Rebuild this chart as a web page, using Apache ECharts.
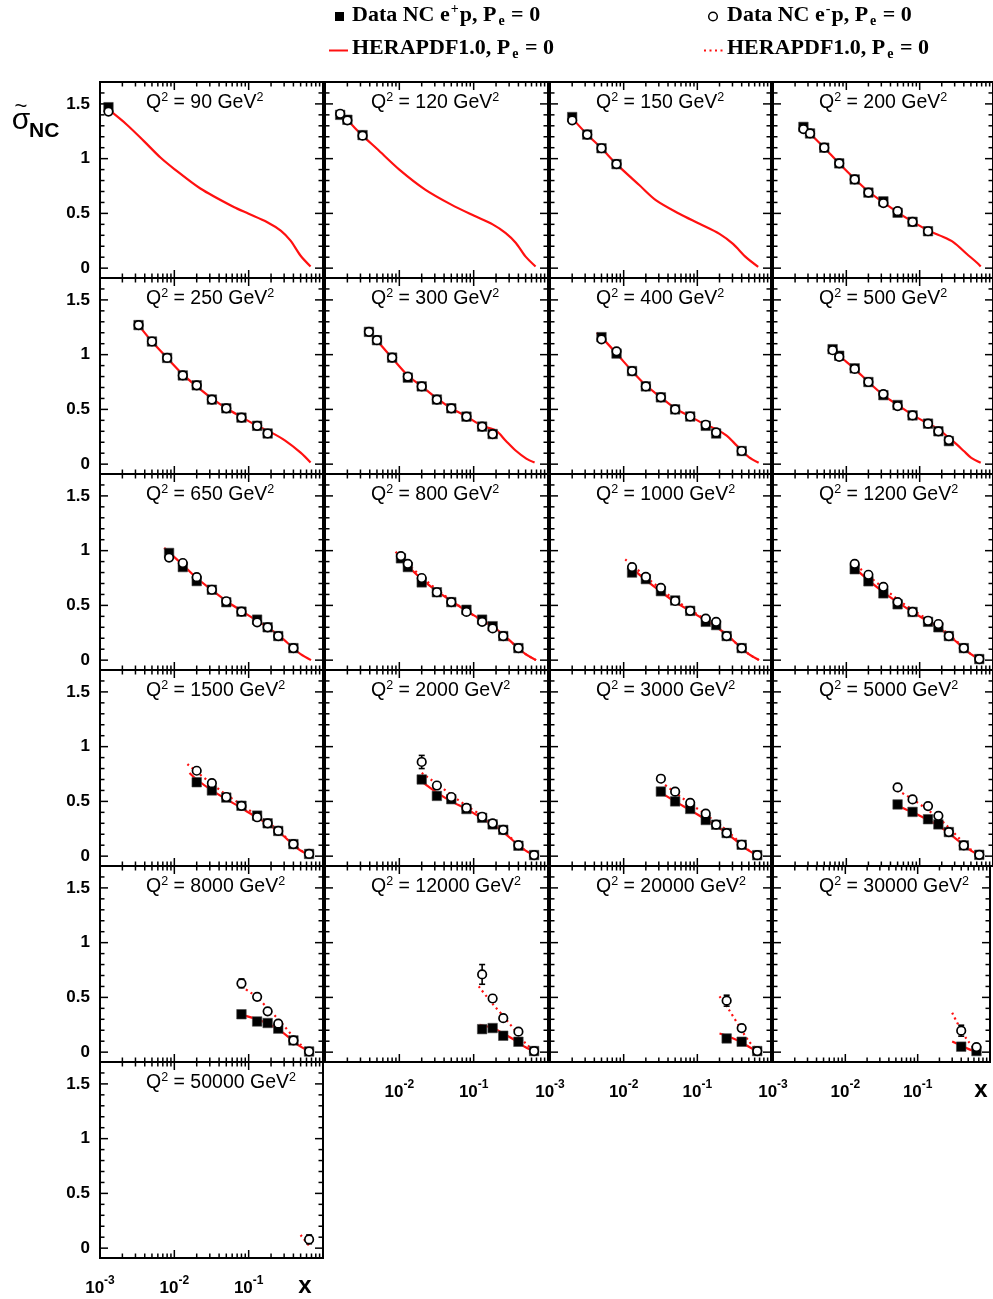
<!DOCTYPE html>
<html><head><meta charset="utf-8">
<script src="https://cdn.jsdelivr.net/npm/echarts@6/dist/echarts.min.js"></script>
<style>html,body{margin:0;padding:0;background:#fff}#c{width:993px;height:1299px}</style>
</head><body><div id="c"></div>
<script>
// ---------------- data (x, sigma_r [, error]) ----------------
const Q2_LABELS = ['90','120','150','200','250','300','400','500','650','800','1000','1200','1500','2000','3000','5000','8000','12000','20000','30000','50000'];

const ep90 = [[0.0013,1.47]];
const em90 = [[0.0013,1.43]];
const thp90 = [[0.00135,1.44],[0.0023,1.31],[0.0039,1.16],[0.0065,1.01],[0.01,0.905],[0.0224,0.727],[0.063,0.558],[0.1,0.497],[0.178,0.42],[0.27,0.343],[0.366,0.251],[0.5,0.113],[0.68,0.015]];

const ep120 = [[0.0016,1.40],[0.002,1.355],[0.0032,1.215]];
const em120 = [[0.0016,1.41],[0.002,1.35],[0.0032,1.21]];
const thp120 = [[0.0017,1.39],[0.002,1.35],[0.0032,1.21],[0.005,1.09],[0.01,0.90],[0.022,0.72],[0.05,0.58],[0.1,0.48],[0.18,0.40],[0.27,0.32],[0.37,0.23],[0.5,0.105],[0.68,0.015]];

const ep150 = [[0.002,1.38],[0.0032,1.22],[0.005,1.095],[0.008,0.95]];
const em150 = [[0.002,1.35],[0.0032,1.22],[0.005,1.095],[0.008,0.95]];
const thp150 = [[0.002,1.37],[0.0032,1.22],[0.005,1.095],[0.008,0.95],[0.0164,0.757],[0.0276,0.619],[0.057,0.497],[0.107,0.405],[0.2,0.313],[0.305,0.221],[0.46,0.098],[0.67,0.012]];

const ep200 = [[0.0026,1.29],[0.0032,1.23],[0.005,1.10],[0.008,0.957],[0.013,0.81],[0.02,0.69],[0.032,0.61],[0.05,0.506],[0.08,0.423],[0.13,0.337]];
const em200 = [[0.0026,1.27],[0.0032,1.23],[0.005,1.10],[0.008,0.957],[0.013,0.81],[0.02,0.69],[0.032,0.594],[0.05,0.52],[0.08,0.423],[0.13,0.337]];
const thp200 = [[0.0025,1.31],[0.0032,1.23],[0.005,1.10],[0.008,0.955],[0.013,0.815],[0.02,0.70],[0.032,0.60],[0.05,0.51],[0.08,0.425],[0.13,0.345],[0.19,0.297],[0.29,0.236],[0.44,0.129],[0.6,0.052],[0.68,0.015]];

const ep250 = [[0.0033,1.27],[0.005,1.12],[0.008,0.97],[0.013,0.81],[0.02,0.72],[0.032,0.59],[0.05,0.51],[0.08,0.425],[0.13,0.35],[0.18,0.28]];
const em250 = [[0.0033,1.27],[0.005,1.12],[0.008,0.97],[0.013,0.81],[0.02,0.72],[0.032,0.59],[0.05,0.51],[0.08,0.425],[0.13,0.35],[0.18,0.28]];
const thp250 = [[0.0033,1.27],[0.005,1.12],[0.008,0.97],[0.013,0.82],[0.02,0.71],[0.032,0.60],[0.05,0.51],[0.08,0.43],[0.13,0.35],[0.2,0.29],[0.31,0.215],[0.5,0.105],[0.68,0.015]];

const ep300 = [[0.0039,1.208],[0.005,1.132],[0.008,0.973],[0.013,0.79],[0.02,0.71],[0.032,0.59],[0.05,0.51],[0.08,0.434],[0.13,0.343],[0.18,0.275]];
const em300 = [[0.0039,1.208],[0.005,1.132],[0.008,0.973],[0.013,0.80],[0.02,0.71],[0.032,0.59],[0.05,0.51],[0.08,0.434],[0.13,0.343],[0.18,0.275]];
const thp300 = [[0.005,1.13],[0.008,0.97],[0.013,0.81],[0.02,0.71],[0.032,0.60],[0.05,0.51],[0.08,0.435],[0.13,0.35],[0.2,0.306],[0.27,0.214],[0.37,0.122],[0.51,0.051],[0.66,0.015]];

const ep400 = [[0.005,1.16],[0.008,1.01],[0.013,0.85],[0.02,0.71],[0.032,0.61],[0.05,0.50],[0.08,0.435],[0.13,0.35],[0.18,0.28],[0.4,0.12]];
const em400 = [[0.005,1.14],[0.008,1.03],[0.013,0.85],[0.02,0.71],[0.032,0.61],[0.05,0.50],[0.08,0.435],[0.13,0.36],[0.18,0.29],[0.4,0.12]];
const thp400 = [[0.0043,1.20],[0.005,1.16],[0.008,1.01],[0.013,0.85],[0.02,0.72],[0.032,0.61],[0.05,0.51],[0.08,0.435],[0.13,0.36],[0.18,0.32],[0.25,0.26],[0.32,0.19],[0.4,0.125],[0.5,0.065],[0.68,0.012]];

const ep500 = [[0.0065,1.05],[0.008,0.99],[0.013,0.875],[0.02,0.75],[0.032,0.63],[0.05,0.54],[0.08,0.445],[0.13,0.37],[0.18,0.30],[0.25,0.21]];
const em500 = [[0.0065,1.04],[0.008,0.98],[0.013,0.87],[0.02,0.75],[0.032,0.64],[0.05,0.53],[0.08,0.445],[0.13,0.37],[0.18,0.30],[0.25,0.22]];
const thp500 = [[0.0065,1.05],[0.008,0.99],[0.013,0.87],[0.02,0.75],[0.032,0.63],[0.05,0.54],[0.08,0.45],[0.13,0.37],[0.18,0.32],[0.25,0.24],[0.32,0.18],[0.4,0.12],[0.5,0.06],[0.68,0.012]];

const ep650 = [[0.0085,0.979],[0.013,0.85],[0.02,0.722],[0.032,0.643],[0.05,0.529],[0.08,0.443],[0.13,0.37],[0.18,0.30],[0.25,0.22],[0.4,0.11]];
const em650 = [[0.0085,0.937],[0.013,0.887],[0.02,0.758],[0.032,0.643],[0.05,0.538],[0.08,0.443],[0.13,0.345],[0.18,0.30],[0.25,0.22],[0.4,0.11]];
const thp650 = [[0.0073,1.025],[0.013,0.87],[0.02,0.75],[0.032,0.64],[0.05,0.54],[0.08,0.45],[0.13,0.36],[0.18,0.30],[0.25,0.23],[0.4,0.11],[0.5,0.055],[0.69,0.0]];

const ep800 = [[0.0105,0.93],[0.013,0.85],[0.02,0.71],[0.032,0.62],[0.05,0.53],[0.08,0.46],[0.13,0.37],[0.18,0.31],[0.25,0.22],[0.4,0.11]];
const em800 = [[0.0105,0.95],[0.013,0.88],[0.02,0.75],[0.032,0.62],[0.05,0.53],[0.08,0.44],[0.13,0.35],[0.18,0.29],[0.25,0.22],[0.4,0.11]];
const thp800 = [[0.0095,0.96],[0.013,0.86],[0.02,0.74],[0.032,0.63],[0.05,0.54],[0.08,0.45],[0.13,0.365],[0.18,0.31],[0.25,0.23],[0.4,0.11],[0.5,0.055],[0.69,0.0]];
const thm800 = [[0.0089,0.99],[0.013,0.88],[0.02,0.76],[0.032,0.645],[0.05,0.545],[0.08,0.45],[0.13,0.36],[0.18,0.30],[0.25,0.225],[0.4,0.11],[0.5,0.055],[0.69,0.0]];

const ep1000 = [[0.013,0.80],[0.02,0.74],[0.032,0.63],[0.05,0.545],[0.08,0.45],[0.13,0.35],[0.18,0.32],[0.25,0.22],[0.4,0.11]];
const em1000 = [[0.013,0.85],[0.02,0.76],[0.032,0.66],[0.05,0.54],[0.08,0.45],[0.13,0.38],[0.18,0.35],[0.25,0.22],[0.4,0.11]];
const thp1000 = [[0.013,0.84],[0.02,0.73],[0.032,0.625],[0.05,0.53],[0.08,0.45],[0.13,0.36],[0.18,0.305],[0.25,0.23],[0.4,0.11],[0.5,0.055],[0.69,0.0]];
const thm1000 = [[0.0105,0.92],[0.013,0.87],[0.02,0.76],[0.032,0.65],[0.05,0.55],[0.08,0.46],[0.13,0.37],[0.18,0.31],[0.25,0.23],[0.4,0.11],[0.5,0.055],[0.69,0.0]];

const ep1200 = [[0.013,0.83],[0.02,0.72],[0.032,0.61],[0.05,0.51],[0.08,0.44],[0.13,0.35],[0.18,0.30],[0.25,0.22],[0.4,0.11],[0.65,0.01]];
const em1200 = [[0.013,0.88],[0.02,0.78],[0.032,0.67],[0.05,0.53],[0.08,0.44],[0.13,0.36],[0.18,0.33],[0.25,0.22],[0.4,0.11],[0.65,0.01]];
const thp1200 = [[0.013,0.84],[0.02,0.73],[0.032,0.62],[0.05,0.53],[0.08,0.44],[0.13,0.355],[0.18,0.30],[0.25,0.225],[0.4,0.11],[0.5,0.055],[0.69,0.0]];
const thm1200 = [[0.012,0.90],[0.02,0.77],[0.032,0.66],[0.05,0.555],[0.08,0.46],[0.13,0.37],[0.18,0.31],[0.25,0.235],[0.4,0.115],[0.5,0.055],[0.69,0.0]];

const ep1500 = [[0.02,0.675],[0.032,0.60],[0.05,0.535],[0.08,0.46],[0.13,0.37],[0.18,0.30],[0.25,0.23],[0.4,0.11],[0.65,0.02]];
const em1500 = [[0.02,0.78],[0.032,0.666],[0.05,0.54],[0.08,0.46],[0.13,0.355],[0.18,0.30],[0.25,0.23],[0.4,0.11],[0.65,0.02]];
const thp1500 = [[0.016,0.76],[0.02,0.70],[0.032,0.60],[0.05,0.52],[0.08,0.44],[0.13,0.35],[0.18,0.295],[0.25,0.225],[0.4,0.105],[0.5,0.05],[0.69,0.0]];
const thm1500 = [[0.015,0.84],[0.02,0.77],[0.032,0.66],[0.05,0.56],[0.08,0.47],[0.13,0.37],[0.18,0.31],[0.25,0.235],[0.4,0.11],[0.5,0.055],[0.69,0.0]];

const ep2000 = [[0.02,0.70],[0.032,0.55],[0.05,0.52],[0.08,0.43],[0.13,0.35],[0.18,0.29],[0.25,0.24],[0.4,0.095],[0.65,0.01]];
const em2000 = [[0.02,0.86,0.06],[0.032,0.645],[0.05,0.54],[0.08,0.44],[0.13,0.36],[0.18,0.30],[0.25,0.24],[0.4,0.10],[0.65,0.01]];
const thp2000 = [[0.02,0.68],[0.032,0.58],[0.05,0.50],[0.08,0.43],[0.13,0.345],[0.18,0.29],[0.25,0.22],[0.4,0.10],[0.5,0.05],[0.69,0.0]];
const thm2000 = [[0.02,0.76],[0.032,0.66],[0.05,0.56],[0.08,0.46],[0.13,0.37],[0.18,0.31],[0.25,0.23],[0.4,0.105],[0.5,0.05],[0.69,0.0]];

const ep3000 = [[0.032,0.59],[0.05,0.50],[0.08,0.431],[0.13,0.33],[0.18,0.287],[0.25,0.211],[0.4,0.104],[0.65,0.009]];
const em3000 = [[0.032,0.707],[0.05,0.589],[0.08,0.487],[0.13,0.388],[0.18,0.287],[0.25,0.211],[0.4,0.104],[0.65,0.009]];
const thp3000 = [[0.032,0.58],[0.05,0.50],[0.08,0.42],[0.13,0.335],[0.18,0.28],[0.25,0.21],[0.4,0.10],[0.5,0.05],[0.69,0.0]];
const thm3000 = [[0.032,0.68],[0.05,0.58],[0.08,0.48],[0.13,0.38],[0.18,0.31],[0.25,0.235],[0.4,0.11],[0.5,0.055],[0.69,0.0]];

const ep5000 = [[0.05,0.472],[0.08,0.404],[0.13,0.337],[0.18,0.29],[0.25,0.22],[0.4,0.098],[0.65,0.012]];
const em5000 = [[0.05,0.628],[0.08,0.518],[0.13,0.457],[0.18,0.368],[0.25,0.22],[0.4,0.098],[0.65,0.012]];
const thp5000 = [[0.05,0.46],[0.08,0.40],[0.13,0.33],[0.18,0.28],[0.25,0.21],[0.4,0.10],[0.5,0.05],[0.69,0.0]];
const thm5000 = [[0.05,0.60],[0.08,0.52],[0.13,0.42],[0.18,0.35],[0.25,0.26],[0.4,0.12],[0.5,0.06],[0.69,0.0]];

const ep8000 = [[0.08,0.346],[0.13,0.28],[0.18,0.266],[0.25,0.215],[0.4,0.107],[0.65,0.006]];
const em8000 = [[0.08,0.628,0.04],[0.13,0.505],[0.18,0.373],[0.25,0.26],[0.4,0.107],[0.65,0.006]];
const thp8000 = [[0.08,0.34],[0.13,0.30],[0.18,0.26],[0.25,0.21],[0.4,0.10],[0.5,0.05],[0.69,0.0]];
const thm8000 = [[0.08,0.60],[0.13,0.50],[0.18,0.40],[0.25,0.30],[0.4,0.14],[0.5,0.07],[0.69,0.0]];

const ep12000 = [[0.13,0.21],[0.18,0.22],[0.25,0.15],[0.4,0.095],[0.65,0.01]];
const em12000 = [[0.13,0.71,0.09],[0.18,0.49,0.03],[0.25,0.31],[0.4,0.187],[0.65,0.01]];
const thp12000 = [[0.12,0.25],[0.18,0.22],[0.25,0.17],[0.4,0.09],[0.5,0.045],[0.69,0.0]];
const thm12000 = [[0.117,0.60],[0.18,0.44],[0.25,0.33],[0.4,0.16],[0.5,0.08],[0.69,0.0]];

const ep20000 = [[0.25,0.125],[0.4,0.095],[0.65,0.01]];
const em20000 = [[0.25,0.47,0.05],[0.4,0.22],[0.65,0.01]];
const thp20000 = [[0.2,0.17],[0.25,0.15],[0.4,0.09],[0.5,0.05],[0.69,0.0]];
const thm20000 = [[0.2,0.51],[0.25,0.42],[0.4,0.20],[0.5,0.10],[0.69,0.0]];

const ep30000 = [[0.4,0.05],[0.65,0.01]];
const em30000 = [[0.4,0.196,0.05],[0.65,0.046]];
const thp30000 = [[0.3,0.097],[0.4,0.06],[0.5,0.03],[0.69,0.0]];
const thm30000 = [[0.3,0.36],[0.4,0.20],[0.5,0.10],[0.69,0.0]];

const ep50000 = [];
const em50000 = [[0.65,0.08,0.04]];
const thm50000 = [[0.5,0.12],[0.69,0.0]];

// tick positions
const X_MAJOR = [0.001, 0.01, 0.1];
const X_MINOR = [0.002,0.003,0.004,0.005,0.006,0.007,0.008,0.009,0.02,0.03,0.04,0.05,0.06,0.07,0.08,0.09,0.2,0.3,0.4,0.5,0.6,0.7,0.8,0.9];
const Y_MAJOR = [0, 0.5, 1, 1.5];
const Y_MINOR = [0.1,0.2,0.3,0.4,0.6,0.7,0.8,0.9,1.1,1.2,1.3,1.4,1.6];
const Y_LABELS = [0, 0.5, 1, 1.5];

const PANELS = [
  {ep:ep90, em:em90, thP:thp90, thM:null},
  {ep:ep120, em:em120, thP:thp120, thM:null},
  {ep:ep150, em:em150, thP:thp150, thM:null},
  {ep:ep200, em:em200, thP:thp200, thM:null},
  {ep:ep250, em:em250, thP:thp250, thM:null},
  {ep:ep300, em:em300, thP:thp300, thM:null},
  {ep:ep400, em:em400, thP:thp400, thM:null},
  {ep:ep500, em:em500, thP:thp500, thM:null},
  {ep:ep650, em:em650, thP:thp650, thM:null},
  {ep:ep800, em:em800, thP:thp800, thM:thm800},
  {ep:ep1000, em:em1000, thP:thp1000, thM:thm1000},
  {ep:ep1200, em:em1200, thP:thp1200, thM:thm1200},
  {ep:ep1500, em:em1500, thP:thp1500, thM:thm1500},
  {ep:ep2000, em:em2000, thP:thp2000, thM:thm2000},
  {ep:ep3000, em:em3000, thP:thp3000, thM:thm3000},
  {ep:ep5000, em:em5000, thP:thp5000, thM:thm5000},
  {ep:ep8000, em:em8000, thP:thp8000, thM:thm8000},
  {ep:ep12000, em:em12000, thP:thp12000, thM:thm12000},
  {ep:ep20000, em:em20000, thP:thp20000, thM:thm20000},
  {ep:ep30000, em:em30000, thP:thp30000, thM:thm30000},
  {ep:ep50000, em:em50000, thP:null, thM:thm50000}
];

// ---------------- layout ----------------
const ROW_TOPS = [82, 278, 474, 670, 866, 1062];
const COL_LEFTS = [100, 325, 550, 773];
const COL_WIDTHS = [223, 223, 221, 220];
const PANEL_H = 196;
const Y_MIN = -0.09, Y_MAX = 1.7;
const RED = '#ff1010';
const SANS = 'Liberation Sans, Arial, sans-serif';
const SERIF = 'Liberation Serif, Times New Roman, serif';

const TICK_DATA = [].concat(
  X_MAJOR.map(v => [v, 0, 0]), X_MINOR.map(v => [v, 0, 1]),
  Y_MAJOR.map(v => [0.01, v, 2]), Y_MINOR.map(v => [0.01, v, 3]));

function renderTicks(params, api) {
  const cs = params.coordSys;
  const k = api.value(2);
  const st = {stroke: '#000', lineWidth: 1.5};
  if (k < 2) {
    const px = api.coord([api.value(0), 0])[0];
    const len = k === 0 ? 8 : 4.5;
    const b = cs.y + cs.height, t = cs.y;
    return {type: 'group', children: [
      {type: 'line', shape: {x1: px, y1: b, x2: px, y2: b - len}, style: st},
      {type: 'line', shape: {x1: px, y1: t, x2: px, y2: t + len}, style: st}
    ]};
  }
  const py = api.coord([0.01, api.value(1)])[1];
  const len = k === 2 ? 8 : 4.5;
  const l = cs.x, r = cs.x + cs.width;
  return {type: 'group', children: [
    {type: 'line', shape: {x1: l, y1: py, x2: l + len, y2: py}, style: st},
    {type: 'line', shape: {x1: r, y1: py, x2: r - len, y2: py}, style: st}
  ]};
}

function renderErr(params, api) {
  const x = api.value(0), y = api.value(1), e = api.value(2);
  const t = api.coord([x, y + e]), b = api.coord([x, y - e]);
  const st = {stroke: '#000', lineWidth: 1.6};
  return {type: 'group', children: [
    {type: 'line', shape: {x1: t[0], y1: t[1], x2: b[0], y2: b[1]}, style: st},
    {type: 'line', shape: {x1: t[0] - 3, y1: t[1], x2: t[0] + 3, y2: t[1]}, style: st},
    {type: 'line', shape: {x1: b[0] - 3, y1: b[1], x2: b[0] + 3, y2: b[1]}, style: st}
  ]};
}

const option = {animation: false, backgroundColor: '#fff', grid: [], xAxis: [], yAxis: [], series: [], graphic: []};

PANELS.forEach((p, i) => {
  const row = Math.floor(i / 4), col = i % 4;
  const left = COL_LEFTS[col], top = ROW_TOPS[row], w = COL_WIDTHS[col];
  const showX = row === 5 || (row === 4 && col > 0);
  option.grid.push({left: left, top: top, width: w, height: PANEL_H, show: true,
    borderColor: '#000', borderWidth: 2, backgroundColor: 'rgba(0,0,0,0)'});
  option.xAxis.push({type: 'log', logBase: 10, gridIndex: i, min: 0.001, max: 1,
    axisLine: {show: false}, axisTick: {show: false}, splitLine: {show: false},
    axisLabel: {show: showX, margin: 17, color: '#000',
      formatter: function (v) {
        const e = Math.round(Math.log10(v));
        if (e >= 0) return '';
        if (col === 1 && e === -3) return '';
        return '{b|10}{s|' + e + '}';
      },
      rich: {
        b: {fontSize: 17, fontWeight: 'bold', fontFamily: SANS, color: '#000', lineHeight: 22, verticalAlign: 'bottom'},
        s: {fontSize: 12, fontWeight: 'bold', fontFamily: SANS, color: '#000', lineHeight: 10, verticalAlign: 'top'}
      }}});
  option.yAxis.push({type: 'value', gridIndex: i, min: Y_MIN, max: Y_MAX,
    axisLine: {show: false}, axisTick: {show: false}, splitLine: {show: false},
    axisLabel: {show: col === 0, customValues: Y_LABELS, margin: 10, color: '#000',
      fontSize: 17, fontWeight: 'bold', fontFamily: SANS}});

  option.series.push({type: 'custom', xAxisIndex: i, yAxisIndex: i, data: TICK_DATA,
    renderItem: renderTicks, silent: true, clip: false, z: 5});
  if (p.thM) option.series.push({type: 'line', xAxisIndex: i, yAxisIndex: i, data: p.thM,
    smooth: 0.3, symbol: 'none', silent: true, z: 2,
    lineStyle: {color: RED, width: 2.2, type: [2, 3.5]}});
  if (p.thP) option.series.push({type: 'line', xAxisIndex: i, yAxisIndex: i, data: p.thP,
    smooth: 0.3, symbol: 'none', silent: true, z: 2,
    lineStyle: {color: RED, width: 2.2}});
  if (p.ep.length) option.series.push({type: 'scatter', xAxisIndex: i, yAxisIndex: i,
    data: p.ep.map(d => [d[0], d[1]]), symbol: 'rect', symbolSize: 9.5, z: 3,
    itemStyle: {color: '#000', opacity: 1, borderColor: '#444', borderWidth: 0.6}});
  const errs = p.em.filter(d => d.length > 2);
  if (errs.length) option.series.push({type: 'custom', xAxisIndex: i, yAxisIndex: i,
    data: errs, renderItem: renderErr, silent: true, z: 3});
  option.series.push({type: 'scatter', xAxisIndex: i, yAxisIndex: i,
    data: p.em.map(d => [d[0], d[1]]), symbol: 'circle', symbolSize: 8.5, z: 4,
    itemStyle: {color: '#fff', opacity: 1, borderColor: '#000', borderWidth: 1.7}});

  option.graphic.push({type: 'text', x: left + 46, y: top + 20, z: 10,
    style: {text: '{a|Q}{s|2}{a| = ' + Q2_LABELS[i] + ' GeV}{s|2}', align: 'left', verticalAlign: 'middle',
      rich: {
        a: {fontSize: 19.5, fontFamily: SANS, fill: '#000', color: '#000', lineHeight: 22, verticalAlign: 'bottom'},
        s: {fontSize: 12.5, fontFamily: SANS, fill: '#000', color: '#000', lineHeight: 10, verticalAlign: 'top'}
      }}});
});

// legend
const LEG_RICH = {
  t: {fontSize: 22, fontWeight: 'bold', fontFamily: SERIF, fill: '#000', color: '#000', lineHeight: 26, verticalAlign: 'middle'},
  sup: {fontSize: 14, fontWeight: 'bold', fontFamily: SERIF, fill: '#000', color: '#000', lineHeight: 12, verticalAlign: 'top', padding: [0, 1, 0, 1]},
  sub: {fontSize: 14, fontWeight: 'bold', fontFamily: SERIF, fill: '#000', color: '#000', lineHeight: 10, verticalAlign: 'bottom', padding: [0, 1, 0, 2]}
};
option.graphic.push(
  {type: 'rect', shape: {x: 335, y: 12, width: 9, height: 9}, style: {fill: '#000'}},
  {type: 'text', x: 352, y: 15, style: {text: '{t|Data NC e}{sup|+}{t|p, P}{sub|e}{t| = 0}', align: 'left', verticalAlign: 'middle', rich: LEG_RICH}},
  {type: 'circle', shape: {cx: 713, cy: 16.5, r: 4.3}, style: {fill: '#fff', stroke: '#000', lineWidth: 1.5}},
  {type: 'text', x: 727, y: 15, style: {text: '{t|Data NC e}{sup|-}{t|p, P}{sub|e}{t| = 0}', align: 'left', verticalAlign: 'middle', rich: LEG_RICH}},
  {type: 'line', shape: {x1: 329, y1: 50.5, x2: 348, y2: 50.5}, style: {stroke: RED, lineWidth: 2}},
  {type: 'text', x: 352, y: 48, style: {text: '{t|HERAPDF1.0, P}{sub|e}{t| = 0}', align: 'left', verticalAlign: 'middle', rich: LEG_RICH}},
  {type: 'line', shape: {x1: 704, y1: 50.5, x2: 725, y2: 50.5}, style: {stroke: RED, lineWidth: 2, lineDash: [2, 3.5]}},
  {type: 'text', x: 727, y: 48, style: {text: '{t|HERAPDF1.0, P}{sub|e}{t| = 0}', align: 'left', verticalAlign: 'middle', rich: LEG_RICH}}
);
// y-axis title (sigma-tilde NC)
option.graphic.push(
  {type: 'text', x: 21, y: 121, style: {text: 'σ', font: '30px ' + SANS, fill: '#000', align: 'center', verticalAlign: 'middle'}},
  {type: 'text', x: 21, y: 107, style: {text: '~', font: '22px ' + SANS, fill: '#000', align: 'center', verticalAlign: 'middle'}},
  {type: 'text', x: 29, y: 131, style: {text: 'NC', font: 'bold 21px ' + SANS, fill: '#000', align: 'left', verticalAlign: 'middle'}}
);
// x-axis titles
option.graphic.push(
  {type: 'text', x: 305, y: 1286, style: {text: 'x', font: 'bold 24px ' + SANS, fill: '#000', align: 'center', verticalAlign: 'middle'}},
  {type: 'text', x: 981, y: 1090, style: {text: 'x', font: 'bold 24px ' + SANS, fill: '#000', align: 'center', verticalAlign: 'middle'}}
);

const chart = echarts.init(document.getElementById('c'), null, {renderer: 'canvas'});
chart.setOption(option);
</script>
</body></html>
